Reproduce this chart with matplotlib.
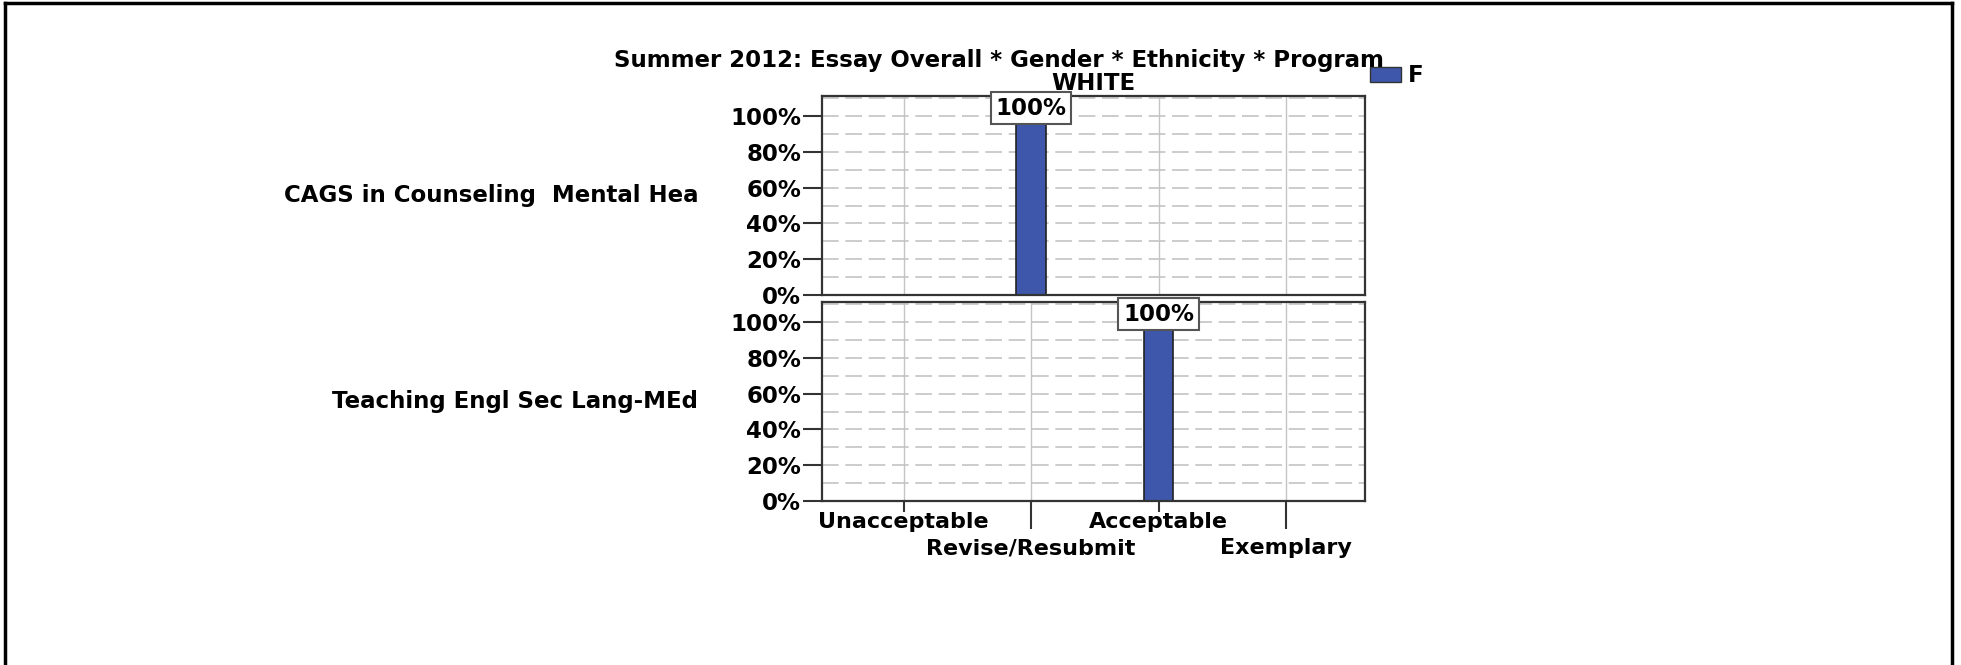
import matplotlib
matplotlib.use("Agg")
import matplotlib.pyplot as plt
from matplotlib.patches import Patch
from matplotlib.lines import Line2D

# ---- data ----
title = "Summer 2012: Essay Overall * Gender * Ethnicity * Program"
ethnicity = "WHITE"
programs = ["CAGS in Counseling  Mental Hea", "Teaching Engl Sec Lang-MEd"]
categories = ["Unacceptable", "Revise/Resubmit", "Acceptable", "Exemplary"]
gender = "F"
pct_F = [
    [0, 100, 0, 0],
    [0, 0, 100, 0],
]
ytick_vals = [0, 20, 40, 60, 80, 100]
ytick_labels = ["0%", "20%", "40%", "60%", "80%", "100%"]

# ---- style ----
plt.rcParams['font.family'] = ['DejaVu Sans']
plt.rcParams['font.weight'] = 'bold'
FS = 16.5
XFS = 16
BAR_COLOR = "#3E57AB"
W, H = 1961, 665
fig = plt.figure(figsize=(W / 100, H / 100), dpi=100)

def fx(px):
    return px / W

def fy(py):
    return 1 - py / H

left, right = 822, 1365
panels = [(96, 295), (302, 501)]
for i, (top, bot) in enumerate(panels):
    ax = fig.add_axes([fx(left), fy(bot), fx(right - left), (bot - top) / H])
    x = list(range(len(categories)))
    ax.set_xlim(-0.64, 3.62)
    ax.set_ylim(0, 111.2)
    # grid
    for yv in range(10, 111, 10):
        ax.axhline(yv, color="#C4C4C4", lw=1.2, dashes=(10, 4), zorder=0)
    for xv in x:
        ax.axvline(xv, color="#C4C4C4", lw=1.0, zorder=0)
    ax.bar(x, pct_F[i], width=0.23, color=BAR_COLOR, edgecolor="#222222",
           linewidth=1.2, zorder=2)
    for xv, v in zip(x, pct_F[i]):
        if v > 0:
            ax.text(xv, v + 4.3, f"{v:.0f}%", ha="center", va="center", fontsize=FS,
                    fontweight="bold", zorder=5, clip_on=False,
                    bbox=dict(boxstyle="square,pad=0.2", facecolor="white",
                              edgecolor="#555555", linewidth=1.5))
    ax.set_yticks(ytick_vals)
    ax.set_yticklabels(ytick_labels, fontsize=FS, fontweight="bold")
    ax.tick_params(axis="y", length=14, width=1.5, color="#333333", pad=1)
    for s in ax.spines.values():
        s.set_color("#333333")
        s.set_linewidth(1.6)
    if i == 0:
        ax.set_xticks([])
        ax.set_title(ethnicity, fontsize=FS, fontweight="bold", pad=4)
    else:
        ax.set_xticks([0, 2])
        ax.set_xticklabels([categories[0], categories[2]], fontsize=XFS, fontweight="bold")
        ax.set_xticks([1, 3], minor=True)
        ax.set_xticklabels([categories[1], categories[3]], minor=True, fontsize=XFS,
                           fontweight="bold")
        ax.tick_params(axis="x", which="major", length=8, width=1.5, color="#333333", pad=0)
        ax.tick_params(axis="x", which="minor", length=20, width=1.5, color="#333333", pad=7)
    fig.text(fx(698), fy((top + bot) / 2), programs[i], ha="right", va="center",
             fontsize=FS, fontweight="bold")

fig.text(fx(999), fy(61), title, ha="center", va="center", fontsize=FS, fontweight="bold")

fig.legend([Patch(facecolor=BAR_COLOR, edgecolor="#333333")], [gender],
           loc="center left", bbox_to_anchor=(fx(1370), fy(76)), frameon=False,
           fontsize=FS, handlelength=1.35, handleheight=0.65, handletextpad=0.3,
           borderpad=0, borderaxespad=0)

# page border (left, top, right)
fig.add_artist(Line2D([fx(5), fx(5)], [0, fy(3)], color="black", lw=2.5))
fig.add_artist(Line2D([fx(5), fx(1952)], [fy(3), fy(3)], color="black", lw=2.5))
fig.add_artist(Line2D([fx(1952), fx(1952)], [0, fy(3)], color="black", lw=2.5))

fig.savefig("out.png", dpi=100)
